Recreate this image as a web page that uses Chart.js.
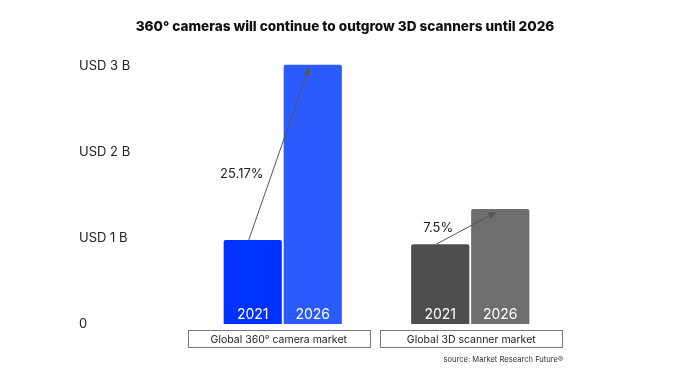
<!DOCTYPE html>
<html>
<head>
<meta charset="utf-8">
<script src="https://cdn.jsdelivr.net/npm/chart.js@4/dist/chart.umd.min.js"></script>
<style>
  html, body { margin: 0; padding: 0; background: #ffffff; }
  #wrap { width: 680px; height: 380px; position: relative; }
</style>
</head>
<body>
<div id="wrap"><canvas id="c" width="680" height="380"></canvas></div>
<script>
const titleText = "360° cameras will continue to outgrow 3D scanners until 2026";
const categories = ["Global 360° camera market", "Global 3D scanner market"];
const years = ["2021", "2026"];
const values2021 = [0.98, 0.93];
const values2026 = [3.02, 1.34];
const growthLabels = ["25.17%", "7.5%"];
const yTickValues = [0, 1, 2, 3];
const yTickLabels = ["0", "USD 1 B", "USD 2 B", "USD 3 B"];
const sourceText = "source: Market Research Future®";

const FONT = "Inter, 'Open Sans', sans-serif";

const overlay = {
  id: 'overlay',
  afterDatasetsDraw(chart) {
    const ctx = chart.ctx;
    const m0 = chart.getDatasetMeta(0), m1 = chart.getDatasetMeta(1);
    ctx.save();
    // title
    ctx.fillStyle = '#111111';
    ctx.font = '800 13.6px ' + FONT;
    ctx.textAlign = 'center';
    ctx.textBaseline = 'middle';
    ctx.fillText(titleText, chart.width / 2 + 5, 27);
    // year labels inside bars
    ctx.fillStyle = '#ffffff';
    ctx.font = '14px ' + FONT;
    ctx.textAlign = 'center';
    ctx.textBaseline = 'middle';
    [m0, m1].forEach((m, di) => {
      m.data.forEach(bar => {
        ctx.fillText(years[di], bar.x, bar.base - 9);
      });
    });
    // growth arrows
    const labelT = [0.38, 0.5];
    const labelGap = [8, 13];
    categories.forEach((c, i) => {
      const b0 = m0.data[i], b1 = m1.data[i];
      const sx = b0.x - 4, sy = b0.y;
      const ex = b1.x - 4, ey = b1.y + 3;
      ctx.strokeStyle = '#555555';
      ctx.fillStyle = '#555555';
      ctx.lineWidth = 1;
      ctx.beginPath();
      ctx.moveTo(sx, sy);
      ctx.lineTo(ex, ey);
      ctx.stroke();
      const ang = Math.atan2(ey - sy, ex - sx);
      const L = 8, W = 3.5;
      ctx.beginPath();
      ctx.moveTo(ex, ey);
      ctx.lineTo(ex - L * Math.cos(ang) + W * Math.sin(ang), ey - L * Math.sin(ang) - W * Math.cos(ang));
      ctx.lineTo(ex - L * Math.cos(ang) - W * Math.sin(ang), ey - L * Math.sin(ang) + W * Math.cos(ang));
      ctx.closePath();
      ctx.fill();
      const t = labelT[i];
      const lx = sx + (ex - sx) * t, ly = sy + (ey - sy) * t;
      ctx.fillStyle = '#222222';
      ctx.font = '13px ' + FONT;
      ctx.textAlign = 'right';
      ctx.textBaseline = 'middle';
      ctx.fillText(growthLabels[i], lx - labelGap[i], ly);
    });
    // category boxes
    const xs = chart.scales.x;
    const bottom = chart.chartArea.bottom;
    const boxShift = [-4, 1];
    categories.forEach((c, i) => {
      const cx = xs.getPixelForValue(i) + boxShift[i];
      const w = 182, h = 17;
      const top = bottom + 6;
      ctx.strokeStyle = '#7a7a7a';
      ctx.lineWidth = 1;
      ctx.strokeRect(Math.round(cx - w / 2) + 0.5, Math.round(top) + 0.5, w, h);
      ctx.fillStyle = '#222222';
      ctx.font = '10.5px ' + FONT;
      ctx.textAlign = 'center';
      ctx.textBaseline = 'middle';
      ctx.fillText(c, cx, top + h / 2 + 1);
    });
    // source
    ctx.fillStyle = '#333333';
    ctx.font = '7.6px ' + FONT;
    ctx.textAlign = 'right';
    ctx.textBaseline = 'middle';
    ctx.fillText(sourceText, xs.right - 1, 360);
    ctx.restore();
  }
};

new Chart(document.getElementById('c'), {
  type: 'bar',
  data: {
    labels: categories,
    datasets: [
      { label: years[0], data: values2021, backgroundColor: ['#0033ff', '#4d4f4e'], borderRadius: 2, borderSkipped: 'bottom' },
      { label: years[1], data: values2026, backgroundColor: ['#2b5bff', '#6e6e6e'], borderRadius: 2, borderSkipped: 'bottom' }
    ]
  },
  options: {
    responsive: false,
    animation: false,
    layout: { padding: { left: 79, right: 116, top: 58, bottom: 56 } },
    plugins: {
      legend: { display: false },
      tooltip: { enabled: false },
      title: { display: false }
    },
    datasets: { bar: { categoryPercentage: 0.64, barPercentage: 0.97 } },
    scales: {
      x: { display: false },
      y: {
        min: 0, max: 3.1,
        afterBuildTicks: s => { s.ticks = yTickValues.map(v => ({ value: v })); },
        afterFit: s => { s.width = 110; },
        grid: { display: false },
        border: { display: false },
        ticks: {
          crossAlign: 'far',
          color: '#222222',
          font: { family: FONT, size: 13 },
          callback: (v) => yTickLabels[yTickValues.indexOf(v)]
        }
      }
    }
  },
  plugins: [overlay]
});
</script>
</body>
</html>
